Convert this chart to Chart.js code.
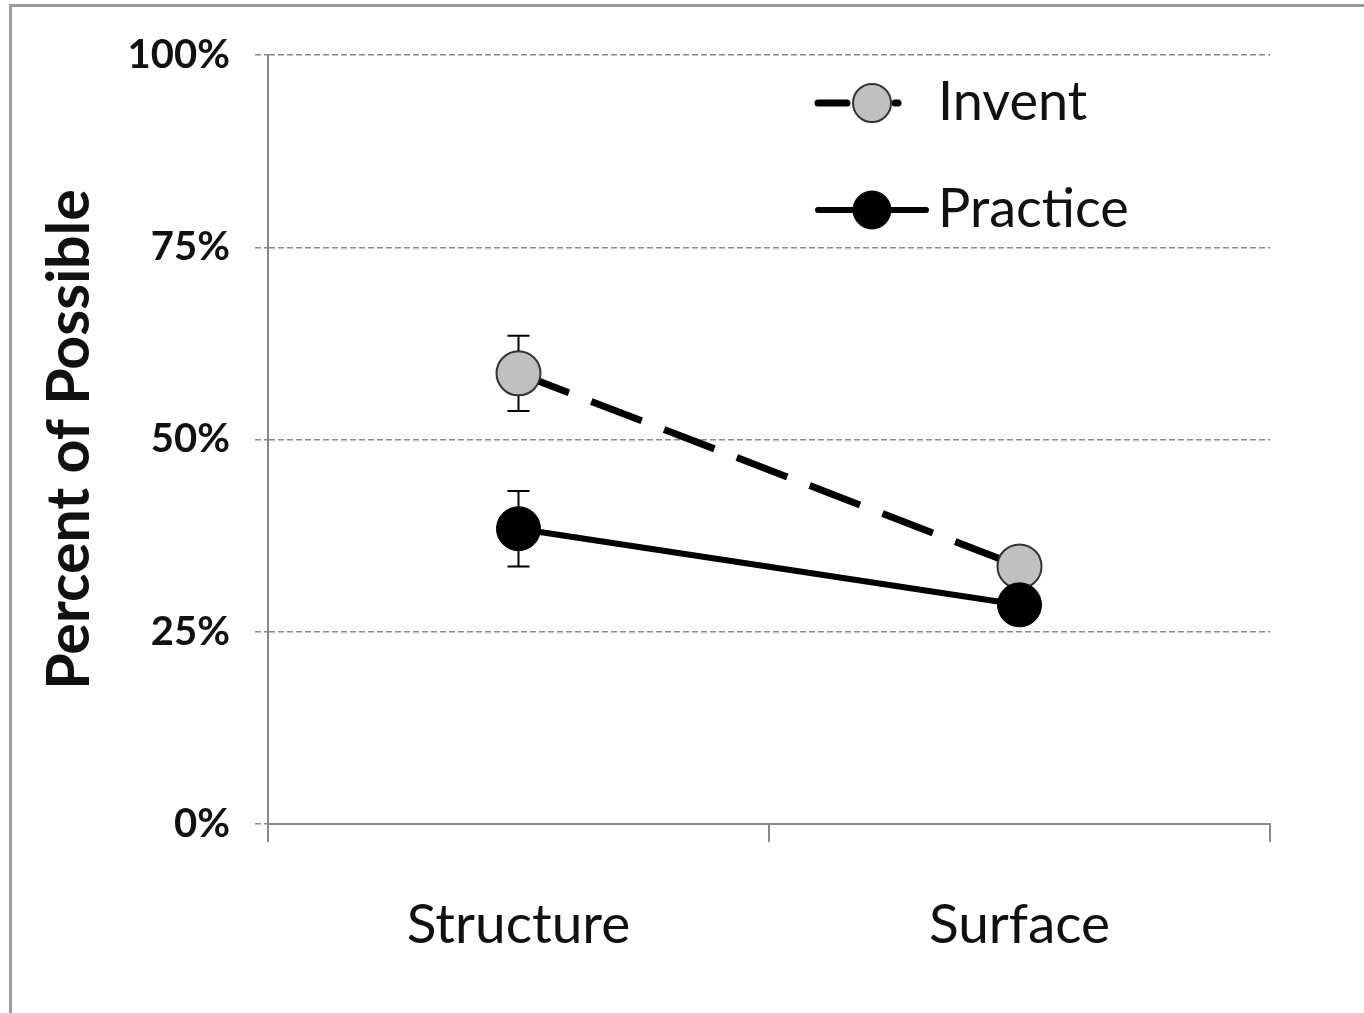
<!DOCTYPE html>
<html><head><meta charset="utf-8">
<script src="https://cdn.jsdelivr.net/npm/chart.js@4.4.0/dist/chart.umd.min.js"></script>
<style>html,body{margin:0;padding:0;background:#fff;overflow:hidden}#wrap{position:relative;width:1364px;height:1013px}</style>
</head><body><div id="wrap"><canvas id="c" width="1364" height="1013"></canvas></div>
<script>
const categories = ['Structure', 'Surface'];
const seriesNames = ['Invent', 'Practice'];
const inventValues = [58.6, 33.5];
const practiceValues = [38.4, 28.5];
const inventErrors = [4.9, 2.0];
const practiceErrors = [4.9, 2.0];
const yTickValues = [0, 25, 50, 75, 100];
const yAxisTitle = 'Percent of Possible';

const FONT = 'Lato';

const framePlugin = {
  id: 'frame',
  beforeDraw(chart) {
    const ctx = chart.ctx;
    ctx.save();
    ctx.fillStyle = '#fff';
    ctx.fillRect(0, 0, chart.width, chart.height);
    ctx.strokeStyle = '#9a9a9a';
    ctx.lineWidth = 3;
    ctx.beginPath();
    ctx.moveTo(10.5, chart.height);
    ctx.lineTo(10.5, 5.5);
    ctx.lineTo(chart.width, 5.5);
    ctx.stroke();
    ctx.restore();
  }
};

const errorBarPlugin = {
  id: 'errorBars',
  beforeDatasetsDraw(chart) {
    const ctx = chart.ctx;
    const y = chart.scales.y;
    ctx.save();
    ctx.strokeStyle = '#000';
    ctx.lineWidth = 2;
    chart.data.datasets.forEach((ds, i) => {
      const meta = chart.getDatasetMeta(i);
      meta.data.forEach((pt, j) => {
        const v = ds.data[j], e = ds.errors[j];
        const yTop = y.getPixelForValue(v + e), yBot = y.getPixelForValue(v - e);
        ctx.beginPath();
        ctx.moveTo(pt.x, yTop); ctx.lineTo(pt.x, yBot);
        ctx.moveTo(pt.x - 11, yTop); ctx.lineTo(pt.x + 11, yTop);
        ctx.moveTo(pt.x - 11, yBot); ctx.lineTo(pt.x + 11, yBot);
        ctx.stroke();
      });
    });
    ctx.restore();
  }
};

const legendPlugin = {
  id: 'customLegend',
  afterDraw(chart) {
    const ctx = chart.ctx;
    const rows = [103, 210];
    seriesNames.forEach((name, k) => {
      const ds = chart.data.datasets.find(d => d.label === name);
      const yy = rows[k];
      ctx.save();
      ctx.strokeStyle = ds.borderColor;
      ctx.lineWidth = ds.borderWidth;
      ctx.lineCap = 'round';
      ctx.beginPath();
      if (ds.borderDash && ds.borderDash.length) {
        ctx.setLineDash([29, 48]);
        ctx.moveTo(818, yy); ctx.lineTo(898, yy);
      } else {
        ctx.moveTo(818, yy); ctx.lineTo(926, yy);
      }
      ctx.stroke();
      ctx.setLineDash([]);
      ctx.beginPath();
      ctx.arc(872, yy, 19, 0, Math.PI * 2);
      ctx.fillStyle = ds.pointBackgroundColor;
      ctx.fill();
      ctx.lineWidth = ds.pointBorderWidth;
      ctx.strokeStyle = ds.pointBorderColor;
      ctx.stroke();
      ctx.fillStyle = '#111';
      ctx.font = '54px ' + FONT;
      ctx.textBaseline = 'middle';
      ctx.textAlign = 'left';
      ctx.fillText(name, 938, yy);
      ctx.restore();
    });
  }
};

new Chart(document.getElementById('c'), {
  type: 'line',
  data: {
    labels: categories,
    datasets: [
      {
        label: seriesNames[0],
        data: inventValues,
        errors: inventErrors,
        borderColor: '#000',
        borderWidth: 7,
        borderDash: [54, 24],
        pointRadius: 22,
        pointBackgroundColor: '#c0c0c0',
        pointBorderColor: '#333',
        pointBorderWidth: 2,
        order: 2,
        tension: 0
      },
      {
        label: seriesNames[1],
        data: practiceValues,
        errors: practiceErrors,
        borderColor: '#000',
        borderWidth: 6,
        borderDash: [],
        pointRadius: 22,
        pointBackgroundColor: '#000',
        pointBorderColor: '#000',
        pointBorderWidth: 1,
        order: 1,
        tension: 0
      }
    ]
  },
  options: {
    responsive: false,
    animation: false,
    events: [],
    layout: { padding: { left: 0, right: 94, top: 55, bottom: 0 } },
    plugins: { legend: { display: false }, tooltip: { enabled: false } },
    scales: {
      x: {
        offset: true,
        grid: { display: true, offset: true, drawOnChartArea: false, drawTicks: true, tickLength: 18, color: '#888', lineWidth: 2 },
        border: { display: true, color: '#888', width: 2 },
        ticks: { color: '#111', font: { family: FONT, size: 55 }, padding: 50, maxRotation: 0 },
        afterFit(s) { s.height = 189; }
      },
      y: {
        min: 0, max: 100,
        afterBuildTicks(s) { s.ticks = yTickValues.map(v => ({ value: v })); },
        grid: { color: '#8a8a8a', lineWidth: 1.5, tickLength: 13, drawTicks: true, tickBorderDash: [6, 3] },
        border: { display: true, color: '#888', width: 2, dash: [6, 3] },
        ticks: { color: '#111', font: { family: FONT, size: 40, weight: 'bold' }, padding: 25, callback: v => v + '%' },
        title: { display: true, text: yAxisTitle, color: '#111', font: { family: FONT, size: 59, weight: 'bold' }, padding: { top: 35, bottom: 0 } },
        afterFit(s) { s.width = 268; }
      }
    }
  },
  plugins: [framePlugin, errorBarPlugin, legendPlugin]
});
</script>
</body></html>
